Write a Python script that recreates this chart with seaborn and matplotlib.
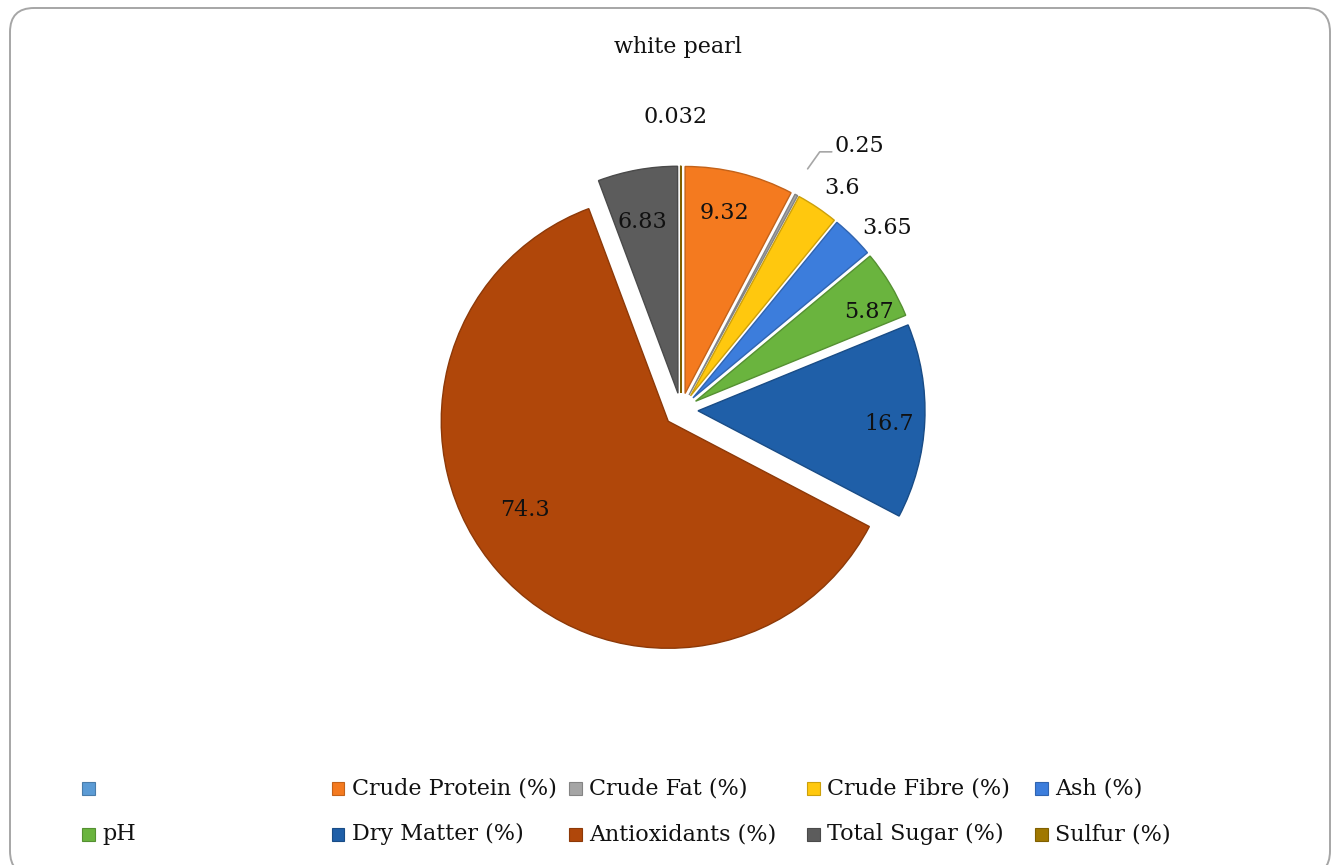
import numpy as np
import matplotlib
matplotlib.use("Agg")
import matplotlib.pyplot as plt
import seaborn as sns
from matplotlib.patches import Rectangle, FancyBboxPatch
from matplotlib.lines import Line2D
from matplotlib.transforms import IdentityTransform
from matplotlib.colors import to_rgb

# ---------------- data ----------------
title = "white pearl"
categories = ["", "Crude Protein (%)", "Crude Fat (%)", "Crude Fibre (%)", "Ash (%)",
              "pH", "Dry Matter (%)", "Antioxidants (%)", "Total Sugar (%)", "Sulfur (%)"]
values = [0, 9.32, 0.25, 3.6, 3.65, 5.87, 16.7, 74.3, 6.83, 0.032]
value_labels = ["", "9.32", "0.25", "3.6", "3.65", "5.87", "16.7", "74.3", "6.83", "0.032"]
colors = ["#5B9BD5", "#F47A1F", "#A5A5A5", "#FFC80E", "#3C7DDC",
          "#6AB43E", "#1F5FA8", "#B0470A", "#5C5C5C", "#A07800"]

# label placement (radius in pie units, angle offset from wedge mid, alignment)
label_r = [0, 0.888, 1.346, 1.208, 1.211, 0.934, 0.918, 0.816, 0.846, 1.291]
label_dang = [0, 1.6, -2.0, -2.0, -3.7, -3.5, -1.2, -8.7, 1.4, 1.0]
label_ha = ["center", "center", "left", "center", "center", "center", "center", "center", "center", "center"]

# ---------------- style ----------------
sns.set_theme(style="white")
plt.rcParams['font.family'] = ['DejaVu Serif']
palette = sns.color_palette(colors)

W, H = 1335, 865
fig = plt.figure(figsize=(W / 100, H / 100), dpi=100)
fig.patch.set_facecolor("white")

# rounded chart border
border = FancyBboxPatch((10, -10), 1320, 867, boxstyle="round,pad=0,rounding_size=24",
                        transform=IdentityTransform(), facecolor="none",
                        edgecolor="#A6A6A6", linewidth=1.4)
fig.add_artist(border)

# title
fig.text(678 / W, 1 - 47 / H, title, ha="center", va="center", fontsize=16, color="#111111")

# pie axes
cx, cy, R = 681, 410, 227
lim = 1.35
half = lim * R
ax = fig.add_axes([(cx - half) / W, (H - cy - half) / H, 2 * half / W, 2 * half / H])
edge_cols = [tuple(c * 0.8 for c in to_rgb(col)) for col in palette]
wedges, _ = ax.pie(values, colors=palette, startangle=90, counterclock=False,
                   explode=[0.075] * len(values), radius=1,
                   wedgeprops=dict(linewidth=1.0))
for w, ec in zip(wedges, edge_cols):
    w.set_edgecolor(ec)
ax.set_xlim(-lim, lim)
ax.set_ylim(-lim, lim)
ax.set_aspect("equal")
ax.axis("off")

for i, w in enumerate(wedges):
    if not value_labels[i]:
        continue
    mid = (w.theta1 + w.theta2) / 2.0
    ang = np.deg2rad(mid + label_dang[i])
    x, y = label_r[i] * np.cos(ang), label_r[i] * np.sin(ang)
    ax.text(x, y, value_labels[i], ha=label_ha[i], va="center", fontsize=16, color="#111111")
    if label_ha[i] == "left":
        a0 = np.deg2rad(mid + 0.5)
        sx, sy = 1.20 * np.cos(a0), 1.20 * np.sin(a0)
        ex, ey = x - 0.066, y - 0.026
        ax.add_line(Line2D([sx, ex, x - 0.013], [sy, ey, ey], color="#A6A6A6", lw=1.2))

# legend (Excel-like grid, row-major)
col_x = [88, 338, 575, 813, 1041]
row_y = [788, 834]
ms = 13
for i, (cat, col) in enumerate(zip(categories, palette)):
    r, c = divmod(i, 5)
    mx, my = col_x[c], row_y[r]
    fig.add_artist(Rectangle(((mx - ms / 2) / W, (H - my - ms / 2) / H), ms / W, ms / H,
                             transform=fig.transFigure, facecolor=col,
                             edgecolor=edge_cols[i], linewidth=0.8))
    if cat:
        fig.text((mx + 14) / W, 1 - my / H, cat, ha="left", va="center",
                 fontsize=16, color="#111111")

fig.savefig("out.png", dpi=100)
